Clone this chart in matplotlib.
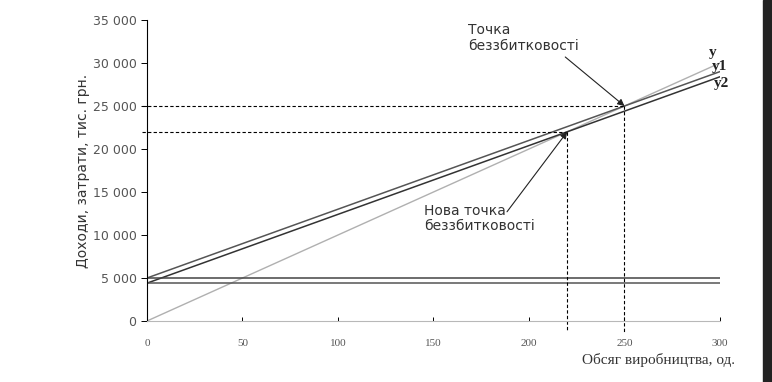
import numpy as np
import matplotlib.pyplot as plt
from matplotlib.patches import Rectangle

# дані
volume = [0, 300]
price = 100          # дохід на одиницю
var_cost = 80        # змінні витрати на одиницю
fixed_cost = 5000    # постійні витрати
fixed_cost_new = 4400
bep = 250
bep_new = 220
y_ticks = [0, 5000, 10000, 15000, 20000, 25000, 30000, 35000]
x_ticks = [0, 50, 100, 150, 200, 250, 300]

x = np.array(volume)
rev = price * x
y1 = fixed_cost + var_cost * x
y2 = fixed_cost_new + var_cost * x

fig = plt.figure(figsize=(7.72, 3.82), dpi=100)
ax = fig.add_axes([0.1904, 0.1597, 0.7422, 0.7879])

ax.plot(x, rev, color='#b0b0b0', lw=1.0)
ax.plot(x, y1, color='#555555', lw=1.1)
ax.plot(x, y2, color='#333333', lw=1.1)
ax.plot(x, [fixed_cost] * 2, color='#444444', lw=1.1)
ax.plot(x, [fixed_cost_new] * 2, color='#555555', lw=1.1)

# пунктирні лінії до точок беззбитковості
dash = dict(color='black', lw=0.8, ls=(0, (3, 2)), clip_on=False)
ax.plot([-2.5, bep], [price * bep] * 2, **dash)
ax.plot([bep, bep], [price * bep, -1300], **dash)
ax.plot([-2.5, bep_new], [price * bep_new] * 2, **dash)
ax.plot([bep_new, bep_new], [price * bep_new, -1300], **dash)

ax.set_xlim(0, 300)
ax.set_ylim(0, 35000)
ax.set_yticks(y_ticks)
ax.set_yticklabels([f'{v:,}'.replace(',', ' ') for v in y_ticks],
                   fontsize=9, color='#555555')
ax.set_xticks(x_ticks)
ax.set_xticklabels([str(v) for v in x_ticks], fontsize=8,
                   family='Liberation Serif', color='#555555')
ax.tick_params(axis='y', direction='out', length=4, width=0.7)
ax.tick_params(axis='x', direction='in', length=3, width=0.7, pad=13)

for s in ['top', 'right']:
    ax.spines[s].set_visible(False)
ax.spines['left'].set_color('black')
ax.spines['bottom'].set_color('#b8b8b8')

ax.set_ylabel('Доходи, затрати, тис. грн.', fontsize=10, color='#333333',
              labelpad=2)
fig.text(0.952, 0.04, 'Обсяг виробництва, од.', ha='right', va='bottom',
         fontsize=11, family='Liberation Serif', color='#333333')

arrow = dict(arrowstyle='-|>', color='#222222', lw=0.8,
             shrinkA=0, shrinkB=0, mutation_scale=10)
txt = dict(fontsize=10, color='#333333', ha='left', va='center',
           linespacing=1.15)

ax.text(168, 32900, 'Точка\nбеззбитковості', **txt)
ax.annotate('', xy=(bep, price * bep), xytext=(219, 30700),
            arrowprops=arrow)
ax.text(145, 11900, 'Нова точка\nбеззбитковості', **txt)
ax.annotate('', xy=(bep_new, price * bep_new), xytext=(188.5, 12700),
            arrowprops=arrow)

lbl = dict(fontsize=11, fontweight='bold', family='Liberation Serif',
           color='#222222', clip_on=False, ha='left', va='center')
ax.text(294, 31200, 'y', **lbl)
ax.text(296, 29600, 'y1', **lbl)
ax.text(297, 27600, 'y2', **lbl)

# темна смуга від сканування праворуч
fig.patches.append(Rectangle((0.988, 0), 0.012, 1, transform=fig.transFigure,
                             color='#222222', zorder=0))

fig.savefig('out.png', dpi=100)
